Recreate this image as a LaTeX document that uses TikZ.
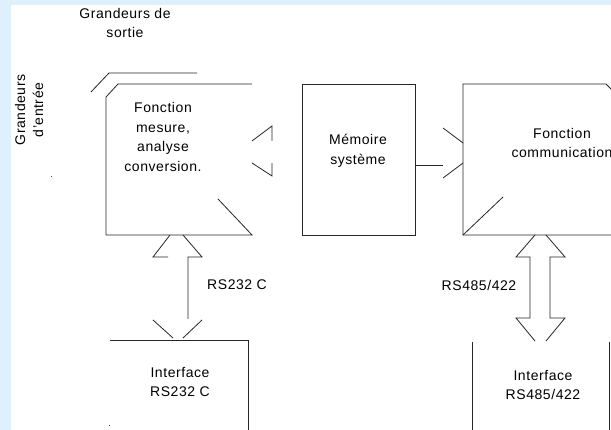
\documentclass[tikz,border=0pt]{standalone}
\usepackage{fontspec}
\setmainfont{Liberation Sans}[LetterSpace=4]
\usetikzlibrary{calc}
\definecolor{bgblue}{RGB}{222,240,252}

\begin{document}
\begin{tikzpicture}[x=1pt,y=-1pt,
    wire/.style={line width=0.8pt,black!85},
    lbl/.style={font=\fontsize{14}{19.5}\selectfont,align=center,inner sep=0pt}]
  \useasboundingbox (0,0) rectangle (611,430);
  \clip (0,0) rectangle (611,430);
  \fill[bgblue] (0,0) rectangle (611,430);
  \fill[white] (11,5) rectangle (611,430);

  % titles
  \node[lbl] (sortie) at (125,23) {Grandeurs de\\sortie};
  \node[lbl,rotate=90,font=\fontsize{14}{18}\selectfont] (entree) at (29,110) {Grandeurs\\d'entrée};

  % Fonction mesure
  \draw[wire] (91,92)--(109,73)--(197,73);
  \draw[wire] (252,84)--(118,84)--(106,97)--(106,235)--(252,235)--(218,199);
  \node[lbl] (mesure) at (163,137) {Fonction\\mesure,\\analyse\\conversion.};
  \draw[wire] (252,141)--(272,126)--(272,141);
  \draw[wire] (252,163)--(272,176)--(272,163);

  % Memoire
  \draw[wire] (302,84) rectangle (415,235);
  \node[lbl] (memoire) at (358,151) {Mémoire\\système};
  \coordinate (memout) at (443,165);
  \draw[wire] (415,165)--(memout);

  % Fonction communication
  \draw[wire] (443,128)--(463,143);
  \draw[wire] (443,178)--(463,163);
  \draw[wire] (612,90)--(606,84)--(463,84)--(463,235)--(611,235);
  \draw[wire] (463,235)--(503,197);
  \node[lbl] (comm) at (562,143) {Fonction\\communication};

  % RS232 C
  \draw[wire] (170,235)--(153,257)--(168,257);
  \draw[wire] (183,235)--(202,257)--(188,257)--(188,319);
  \draw[wire] (153,320)--(173,338);
  \draw[wire] (202,320)--(183,338);
  \node[lbl] (rs232) at (237,285) {RS232 C};
  \draw[wire] (110,340)--(248,340)--(248,430);
  \node[lbl] (irs232) at (180,382) {Interface\\RS232 C};

  % RS485/422
  \draw[wire] (535,235)--(516,257)--(530,257)--(530,318)--(516,318)--(535,341);
  \draw[wire] (546,235)--(565,257)--(550,257)--(550,318)--(565,318)--(546,341);
  \node[lbl] (rs485) at (479,285) {RS485/422};
  \draw[wire] (472,342)--(472,430);
  \draw[wire] (609,342)--(609,430);
  \node[lbl] (irs485) at (543,385) {Interface\\RS485/422};

  % stray dots
  \fill[black!70] (50.5,176.5) rectangle (51.5,177.5);
  \fill[black!70] (108.5,425.5) rectangle (109.5,426.5);
\end{tikzpicture}
\end{document}
